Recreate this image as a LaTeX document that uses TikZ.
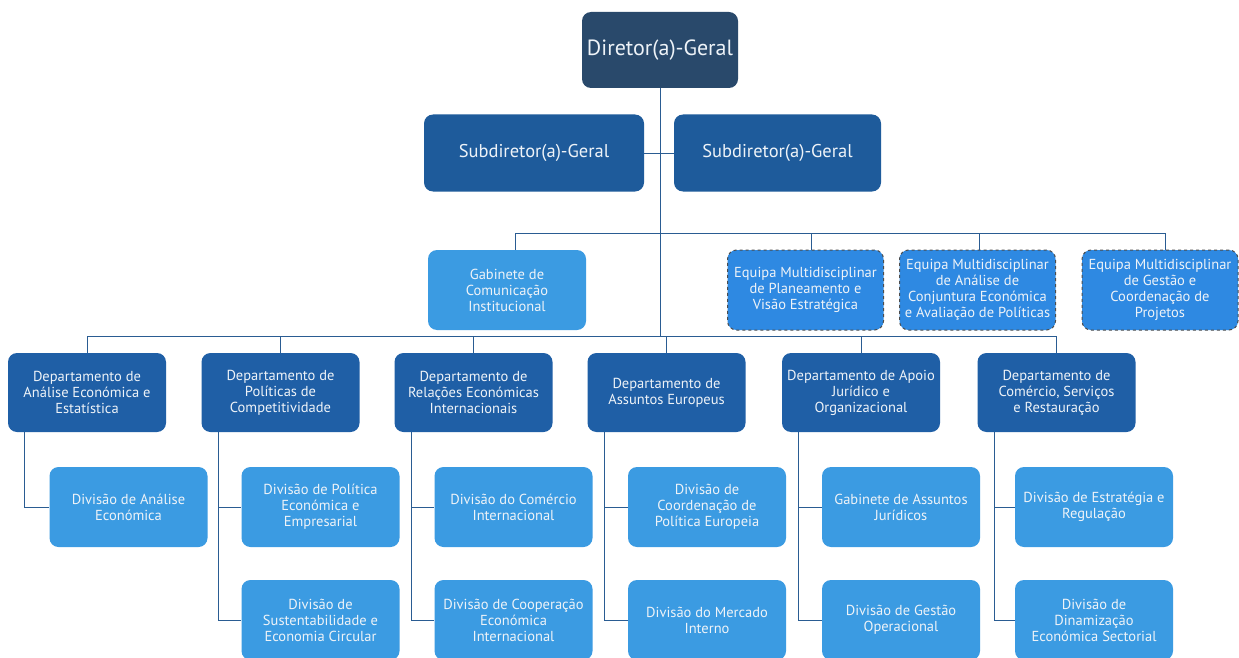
\documentclass[tikz,border=0pt]{standalone}
\usepackage{fontspec}
\setmainfont{PT Sans}
\definecolor{dirblue}{HTML}{29496B}
\definecolor{subblue}{HTML}{1E5B9B}
\definecolor{deptblue}{HTML}{1F5FA6}
\definecolor{divblue}{HTML}{3B9BE2}
\definecolor{teamblue}{HTML}{2E89E2}
\definecolor{linkblue}{HTML}{2A5C92}
\definecolor{boxtext}{HTML}{EEF3F8}

\tikzset{%
  unit box/.style={
    rounded corners=9pt,
    text=boxtext,
    align=center,
    inner sep=1pt,
    font=\fontsize{14.5}{16}\selectfont,
    minimum width=158pt,
    minimum height=80pt
  },
  director box/.style={unit box, fill=dirblue, minimum width=156pt, minimum height=76pt,
    font=\fontsize{22}{26}\selectfont},
  subdir box/.style={unit box, fill=subblue, minimum height=77pt,
    font=\fontsize{18.5}{22}\selectfont},
  dept box/.style={unit box, fill=deptblue, minimum height=79pt},
  div box/.style={unit box, fill=divblue},
  team box/.style={unit box, fill=teamblue, draw=black!70, dashed, line width=1pt,
    minimum width=156pt},
  link/.style={draw=linkblue, line width=0.9pt},
}

\begin{document}
\begin{tikzpicture}[x=1pt, y=-1pt]
\clip (0,0) rectangle (1239,658);
\fill[white] (0,0) rectangle (1239,658);
%=========================================================================================================
% Top management
%=========================================================================================================

\node [director box] (dir) at (660,50) {Diretor(a)-Geral};

\node [subdir box, minimum width=220pt] (sub-1) at (534,153) {Subdiretor(a)-Geral};
\node [subdir box, minimum width=207pt] (sub-2) at (777.5,153) {Subdiretor(a)-Geral};

%=========================================================================================================
% Gabinete and teams
%=========================================================================================================

\node [div box] (gab) at (507,290) {Gabinete de\\Comunicação\\Institucional};

\foreach \x/\l [count=\i] in {
  805.5/{Equipa Multidisciplinar\\de Planeamento e\\Visão Estratégica},
  977.5/{Equipa Multidisciplinar\\de Análise de\\Conjuntura Económica\\e Avaliação de Políticas},
  1160/{Equipa Multidisciplinar\\de Gestão e\\Coordenação de\\Projetos}}
  \node [team box] (team-\i) at (\x,290) {\l};

%=========================================================================================================
% Departments
%=========================================================================================================

\foreach \x/\l [count=\i] in {
  87/{Departamento de\\Análise Económica e\\Estatística},
  280.5/{Departamento de\\Políticas de\\Competitividade},
  473.5/{Departamento de\\Relações Económicas\\Internacionais},
  666.5/{Departamento de\\Assuntos Europeus},
  861/{Departamento de Apoio\\Jurídico e\\Organizacional},
  1056.5/{Departamento de\\Comércio, Serviços\\e Restauração}}
  \node [dept box] (dept-\i) at (\x,392.5) {\l};

%=========================================================================================================
% Divisions
%=========================================================================================================

%First row of divisions
\foreach \x/\l [count=\i] in {
  128.5/{Divisão de Análise\\Económica},
  320.5/{Divisão de Política\\Económica e\\Empresarial},
  513.5/{Divisão do Comércio\\Internacional},
  707/{Divisão de\\Coordenação de\\Política Europeia},
  901/{Gabinete de Assuntos\\Jurídicos},
  1094/{Divisão de Estratégia e\\Regulação}}
  \node [div box] (div-\i-1) at (\x,507) {\l};

%Second row of divisions (none under the first department)
\foreach \x/\l [count=\i from 2] in {
  320.5/{Divisão de\\Sustentabilidade e\\Economia Circular},
  513.5/{Divisão de Cooperação\\Económica\\Internacional},
  707/{Divisão do Mercado\\Interno},
  901/{Divisão de Gestão\\Operacional},
  1094/{Divisão de\\Dinamização\\Económica Sectorial}}
  \node [div box] (div-\i-2) at (\x,620) {\l};

%=========================================================================================================
% Draw connections
%=========================================================================================================

\coordinate (bus-top) at (660,233);
\coordinate (bus-dept) at (660,336);

\draw [link] (dir.south) -- (bus-dept);
\draw [link] (sub-1.east) -- (sub-2.west);

\draw [link] (bus-top) -| ([xshift=8pt]gab.north);
\foreach \i/\s in {1/6,2/2,3/5}
  \draw [link] (bus-top) -| ([xshift=\s pt]team-\i.north);

\foreach \i in {1,...,6}
  \draw [link] (bus-dept) -| (dept-\i.north);

\foreach \i in {1,...,6}
  \draw [link] ([xshift=17pt]dept-\i.south west) |- (div-\i-1.west);

\foreach \i in {2,...,6}
  \draw [link] ([xshift=17pt]dept-\i.south west) |- (div-\i-2.west);

\end{tikzpicture}
\end{document}
